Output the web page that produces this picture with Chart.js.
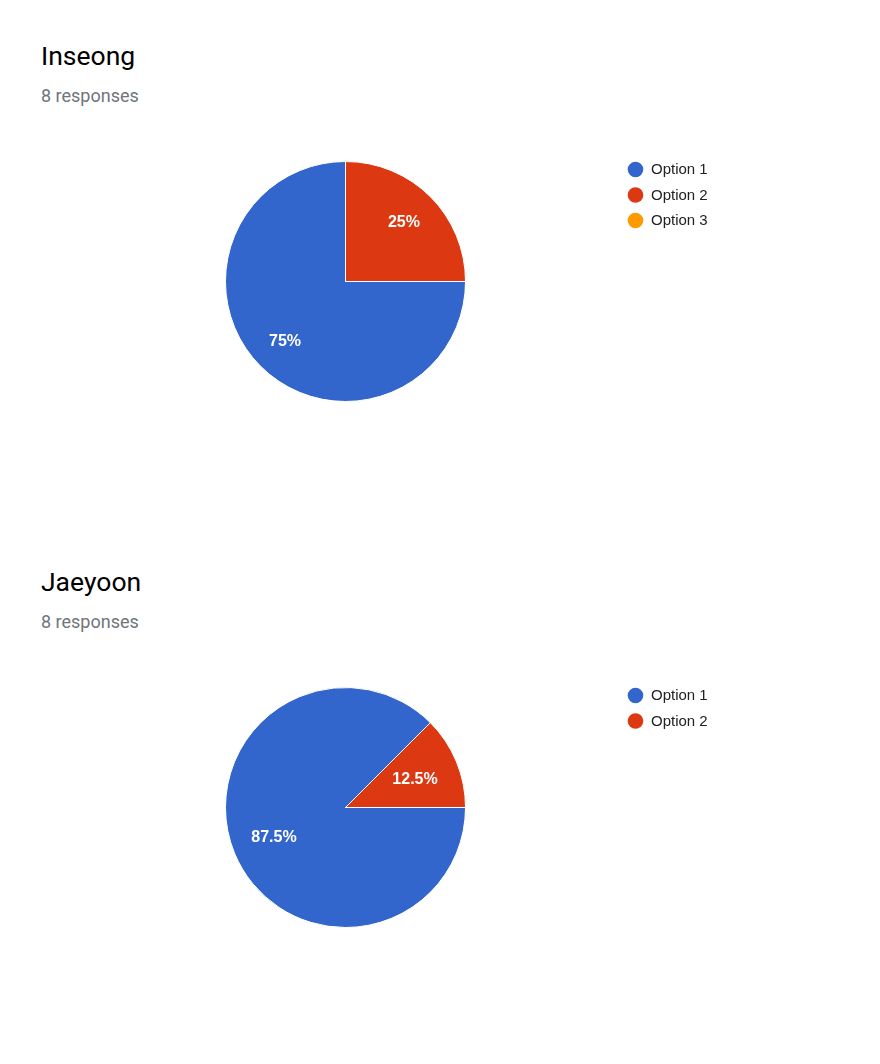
<!DOCTYPE html>
<html>
<head>
<meta charset="utf-8">
<script src="https://cdn.jsdelivr.net/npm/chart.js@4/dist/chart.umd.min.js"></script>
<style>
  html, body { margin: 0; padding: 0; background: #fff; width: 880px; height: 1064px; overflow: hidden; }
  .title { position: absolute; left: 41px; font-family: Roboto, sans-serif; font-size: 26.5px; color: #000; line-height: 1; margin: 0; font-weight: 400; }
  .sub { position: absolute; left: 41px; font-family: Roboto, sans-serif; font-size: 18px; color: #70757a; line-height: 1; margin: 0; }
  canvas { position: absolute; left: 0; }
</style>
</head>
<body>
<div class="title" id="t1" style="top:43px"></div>
<div class="sub" id="s1" style="top:87px"></div>
<canvas id="c1" width="880" height="290" style="top:140px"></canvas>
<div class="title" id="t2" style="top:569px"></div>
<div class="sub" id="s2" style="top:613px"></div>
<canvas id="c2" width="880" height="290" style="top:666px"></canvas>
<script>
const titles = ['Inseong', 'Jaeyoon'];
const responseTexts = ['8 responses', '8 responses'];
const categories1 = ['Option 1', 'Option 2', 'Option 3'];
const values1 = [6, 2, 0];
const categories2 = ['Option 1', 'Option 2'];
const values2 = [7, 1];
const colors = ['#3366cc', '#dc3912', '#ff9900'];

document.getElementById('t1').textContent = titles[0];
document.getElementById('s1').textContent = responseTexts[0];
document.getElementById('t2').textContent = titles[1];
document.getElementById('s2').textContent = responseTexts[1];

const sliceLabels = {
  id: 'sliceLabels',
  afterDatasetsDraw(chart) {
    const ctx = chart.ctx;
    const ds = chart.data.datasets[0];
    const total = ds.data.reduce((a, b) => a + b, 0);
    const meta = chart.getDatasetMeta(0);
    ctx.save();
    ctx.fillStyle = '#ffffff';
    ctx.font = 'bold 16px "Liberation Sans", Arial, sans-serif';
    ctx.textAlign = 'center';
    ctx.textBaseline = 'middle';
    meta.data.forEach((arc, i) => {
      const v = ds.data[i];
      if (!v) return;
      const p = arc.getProps(['x', 'y', 'startAngle', 'endAngle', 'outerRadius'], true);
      const mid = (p.startAngle + p.endAngle) / 2;
      const pct = Math.round(v / total * 1000) / 10;
      const txt = pct + '%';
      const w = ctx.measureText(txt).width;
      const h = 12;
      const c = Math.cos(mid), s = Math.sin(mid);
      const r = p.outerRadius * 0.83 - (w / 2 * Math.abs(c) + h / 2 * Math.abs(s));
      ctx.fillText(txt, p.x + c * r - 1, p.y + s * r + 1);
    });
    ctx.restore();
  }
};

const sideLegend = {
  id: 'sideLegend',
  afterDraw(chart) {
    const ctx = chart.ctx;
    const labels = chart.data.labels;
    const bg = chart.data.datasets[0].backgroundColor;
    ctx.save();
    ctx.font = '15px "Liberation Sans", Arial, sans-serif';
    ctx.textBaseline = 'middle';
    ctx.textAlign = 'left';
    labels.forEach((lab, i) => {
      const y = 29.5 + i * 25.5;
      ctx.beginPath();
      ctx.arc(635.5, y, 7.8, 0, Math.PI * 2);
      ctx.fillStyle = bg[i];
      ctx.fill();
      ctx.fillStyle = '#222222';
      ctx.fillText(lab, 651, y + 0.5);
    });
    ctx.restore();
  }
};

function makePie(id, labels, values) {
  new Chart(document.getElementById(id), {
    type: 'pie',
    data: {
      labels: labels,
      datasets: [{
        data: values,
        backgroundColor: colors.slice(0, values.length),
        borderColor: '#ffffff',
        borderWidth: 1
      }]
    },
    options: {
      responsive: false,
      animation: false,
      rotation: 90,
      layout: { padding: { left: 225, right: 414, top: 21, bottom: 28 } },
      plugins: {
        legend: { display: false },
        tooltip: { enabled: false },
        title: { display: false }
      }
    },
    plugins: [sliceLabels, sideLegend]
  });
}

makePie('c1', categories1, values1);
makePie('c2', categories2, values2);
</script>
</body>
</html>
